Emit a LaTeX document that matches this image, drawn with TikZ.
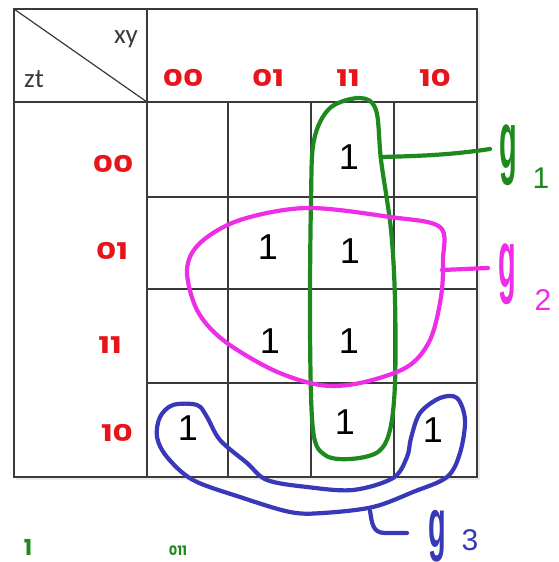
\documentclass[tikz,border=0pt]{standalone}
\usepackage{fontspec}
\setmainfont{Carlito}
\newfontfamily\handfont{Poppins}
\newfontfamily\onefont{Liberation Sans}
\definecolor{gridc}{HTML}{3A3A3A}
\definecolor{kred}{HTML}{E8141C}
\definecolor{kgreen}{HTML}{1E8A1E}
\definecolor{kmag}{HTML}{EE2DE6}
\definecolor{kblue}{HTML}{3838B8}
\tikzset{
  gridline/.style={draw=gridc, line width=1.4pt},
  headtext/.style={text=gridc, font=\fontsize{27}{30}\selectfont, inner sep=0pt},
  redlab/.style={text=kred, font=\handfont\bfseries\fontsize{23}{26}\selectfont, xscale=1.35, inner sep=0pt},
  onemark/.style={text=black, font=\onefont\fontsize{36}{40}\selectfont, inner sep=0pt},
  loop/.style={line width=4.2pt, line join=round, line cap=round},
  gletter/.style={font=\onefont\bfseries\fontsize{58}{62}\selectfont, xscale=0.5, yscale=1.4, inner sep=0pt},
  gsub/.style={font=\onefont\fontsize{30}{34}\selectfont, inner sep=0pt},
  btext/.style={text=kgreen, font=\handfont\bfseries\fontsize{#1}{#1}\selectfont, inner sep=0pt, anchor=south},
}
\begin{document}
\begin{tikzpicture}[x=1pt,y=-1pt]
\useasboundingbox (0,0) rectangle (558,562);
\clip (0,0) rectangle (558,562);
\fill[white] (0,0) rectangle (558,562);
% soft shadow
\fill[black!8] (16,11) rectangle (480,480);
\fill[white] (14,9) rectangle (477,477);
% grid
\draw[gridline] (14,9) rectangle (477,477);
\draw[gridline] (147,9) -- (147,477);
\draw[gridline] (14,102) -- (477,102);
\draw[gridline] (228,102) -- (228,477);
\draw[gridline] (311,102) -- (311,477);
\draw[gridline] (394,102) -- (394,477);
\draw[gridline] (147,197) -- (477,197);
\draw[gridline] (147,289) -- (477,289);
\draw[gridline] (147,383) -- (477,383);
\draw[draw=gridc, line width=1.2pt] (14,9) -- (147,102);
% header texts
\node[headtext] (xy) at (126,39) {xy};
\node[headtext] (zt) at (34,79) {zt};
% column labels
\node[redlab] (c00) at (183,78) {00};
\node[redlab] (c01) at (268,78) {01};
\node[redlab] (c11) at (348,78) {11};
\node[redlab] (c10) at (435,78) {10};
% row labels
\node[redlab] (r00) at (113,164) {00};
\node[redlab] (r01) at (112,251) {01};
\node[redlab] (r11) at (110,345) {11};
\node[redlab] (r10) at (117,433) {10};
% ones
\node[onemark] (m1) at (349,157) {1};
\node[onemark] (m2) at (268,247) {1};
\node[onemark] (m3) at (350,251) {1};
\node[onemark] (m4) at (270,341) {1};
\node[onemark] (m5) at (349,341) {1};
\node[onemark] (m6) at (188,428) {1};
\node[onemark] (m7) at (345,422) {1};
\node[onemark] (m8) at (433,430) {1};
% green loop g1
\draw[loop, kgreen] plot[smooth cycle, tension=0.55] coordinates {
 (360,98) (376,110) (381,160) (391,230) (395,300) (395,383) (390,430)
 (378,452) (350,459) (325,455) (313,430) (310,330) (311,200) (314,140) (330,108)};
\coordinate (g1a) at (381,157);
\coordinate (g1b) at (490,149);
\draw[loop, kgreen] (g1a) .. controls (420,156) and (450,155) .. (g1b);
\node[gletter, text=kgreen] (g1) at (508,155) {g};
\node[gsub, text=kgreen] (g1s) at (541,178) {1};
% magenta loop g2
\draw[loop, kmag] plot[smooth cycle, tension=0.55] coordinates {
 (187,270) (200,243) (240,220) (307,208) (390,217) (440,227) (443,260) (441,297)
 (430,340) (407,367) (360,383) (320,385) (273,370) (223,340) (197,310)};
\coordinate (g2a) at (442,270);
\coordinate (g2b) at (488,268);
\draw[loop, kmag] (g2a) -- (g2b);
\node[gletter, text=kmag] (g2) at (507,274) {g};
\node[gsub, text=kmag] (g2s) at (543,300) {2};
% blue loop g3
\draw[loop, kblue] plot[smooth cycle, tension=0.55] coordinates {
 (160,417) (173,405) (197,405) (207,417) (220,440) (247,463) (267,480) (307,487)
 (353,490) (393,478) (407,457) (411,438) (420,413) (440,398) (457,398) (465,420)
 (460,453) (447,477) (413,492) (373,507) (323,513) (290,512) (240,497) (193,480)
 (167,457) (157,437)};
\coordinate (g3a) at (370,511);
\coordinate (g3b) at (407,533);
\draw[loop, kblue] (g3a) .. controls (372,522) and (372,533) .. (385,533) -- (g3b);
\node[gletter, text=kblue, yscale=0.85] (g3) at (437,536) {g};
\node[gsub, text=kblue] (g3s) at (470,540) {3};
% green text at the bottom edge
\node[btext=22] (b1) at (28,556) {1};
\node[btext=13] (b2) at (178,556) {011};
\end{tikzpicture}
\end{document}
